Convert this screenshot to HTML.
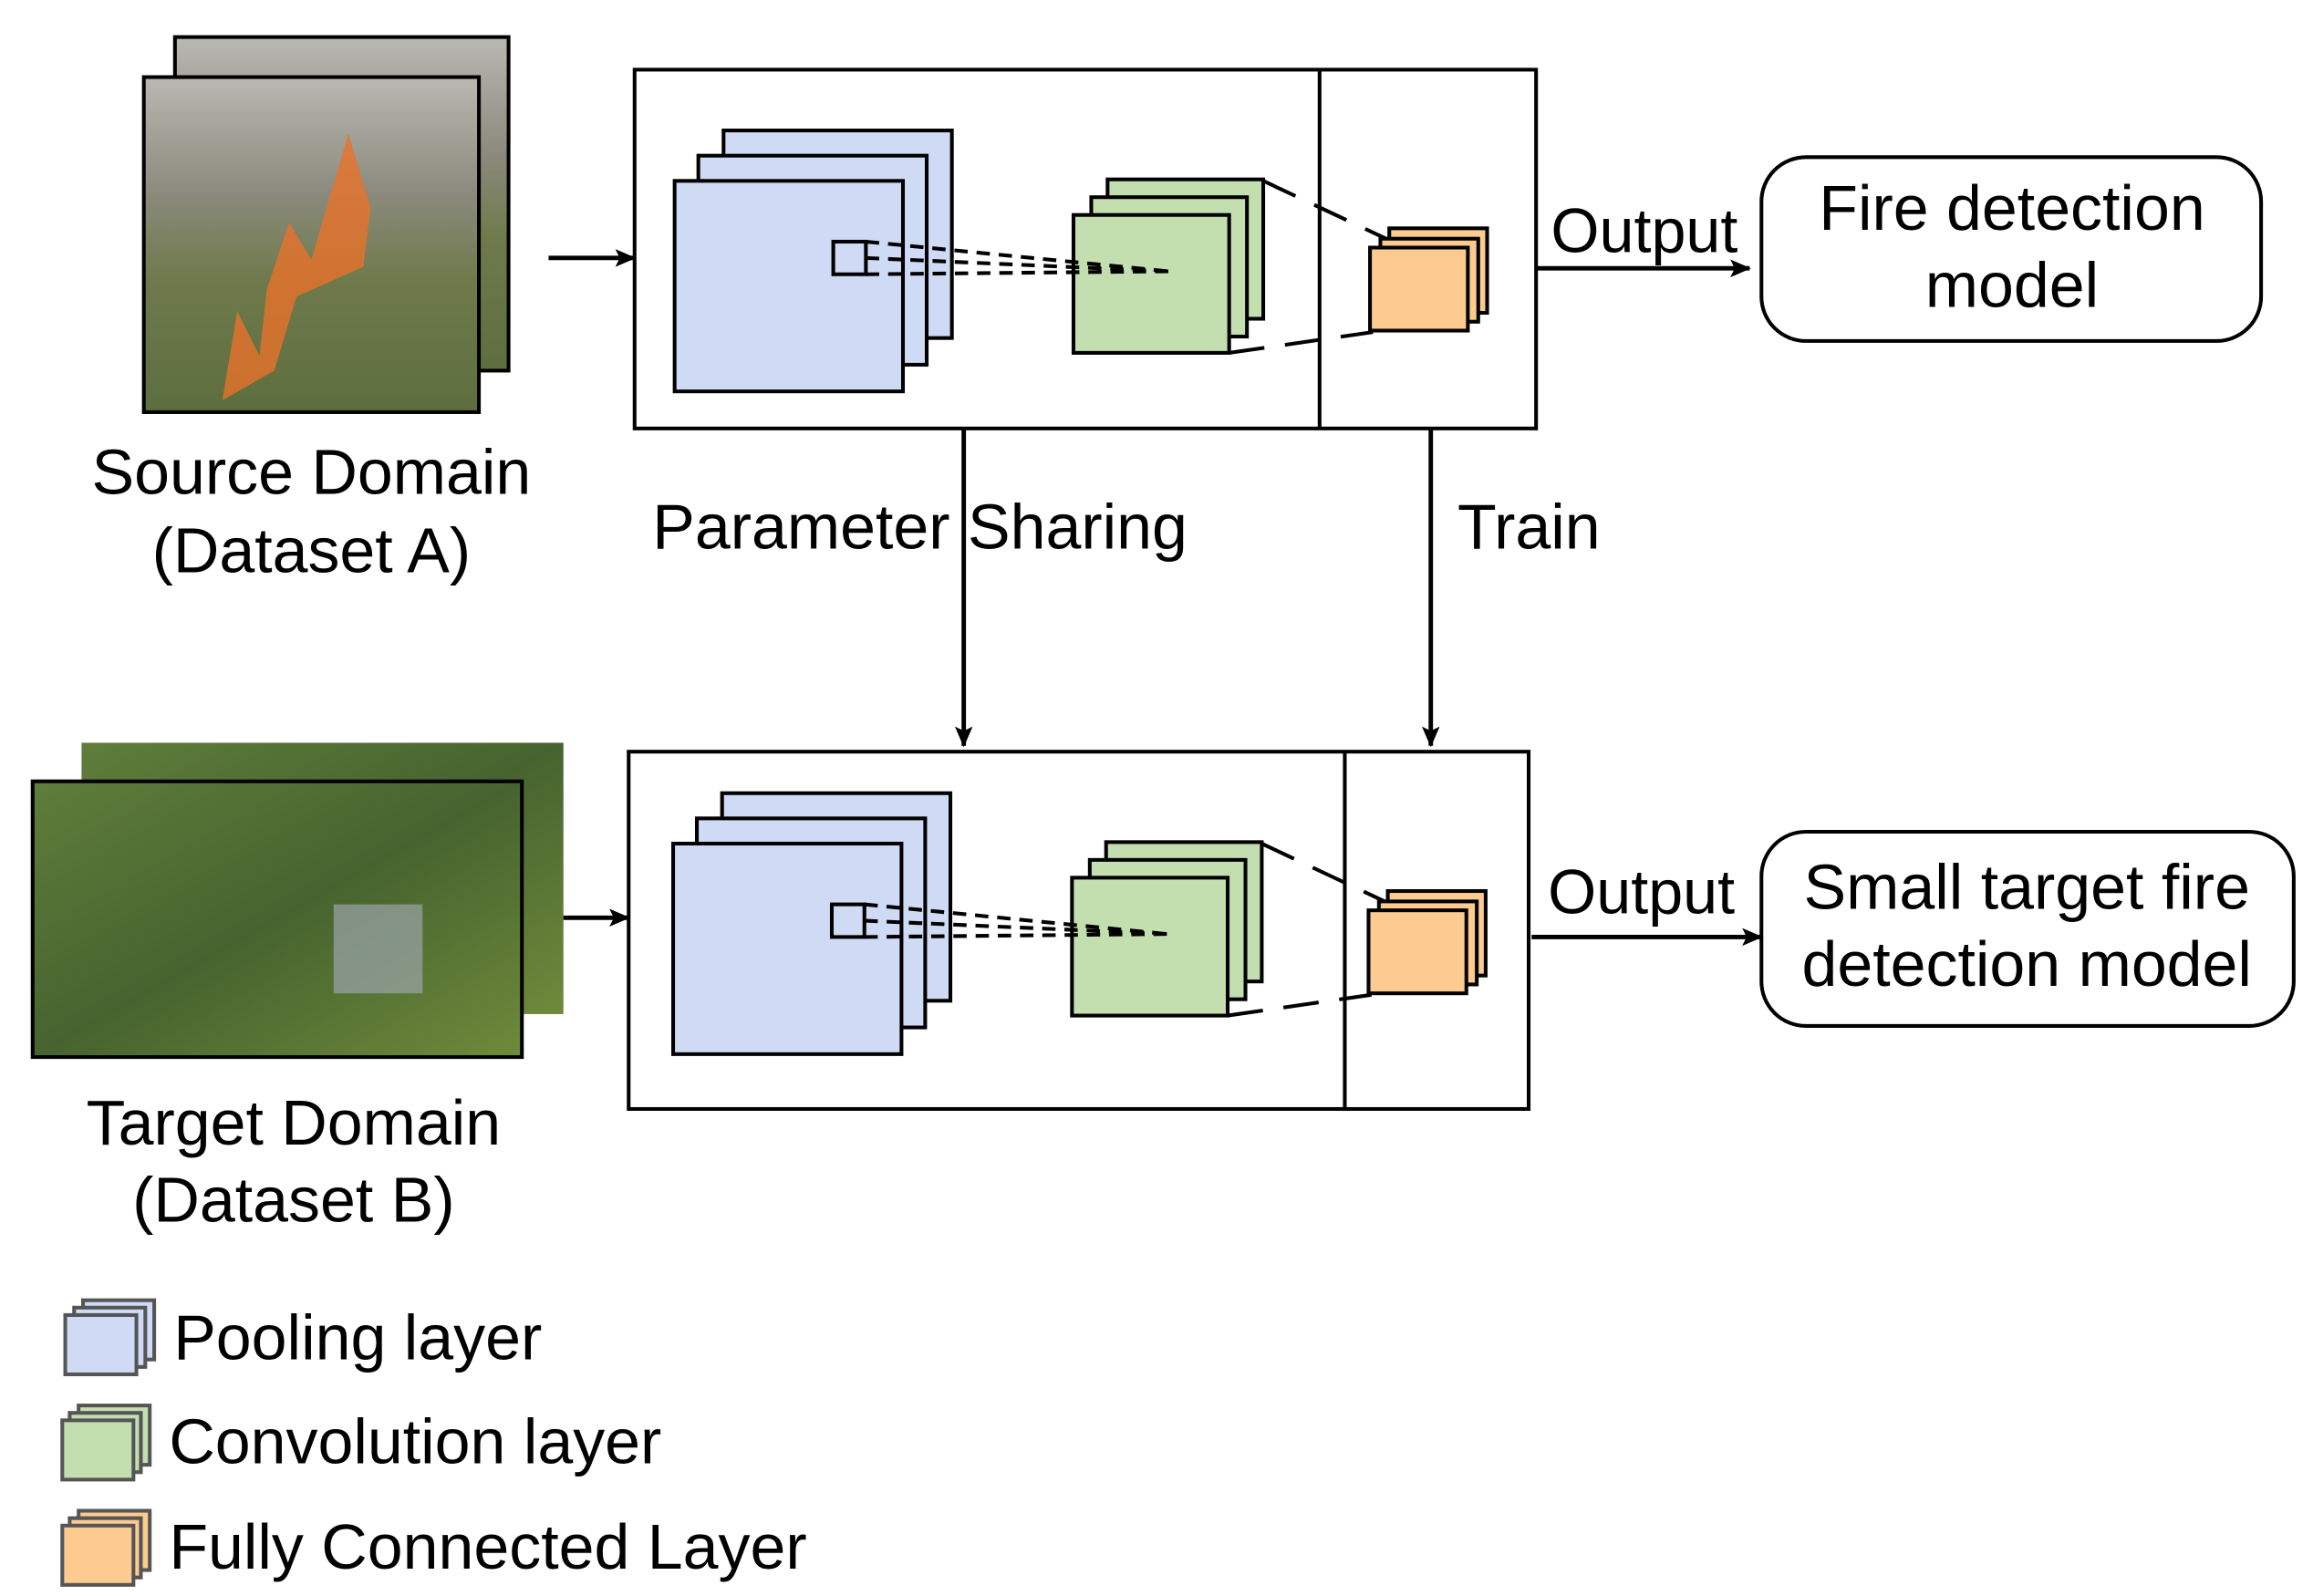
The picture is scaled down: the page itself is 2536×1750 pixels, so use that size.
<!DOCTYPE html>
<html><head><meta charset="utf-8"><style>html,body{margin:0;padding:0;background:#fff}svg{display:block}text{font-family:"Liberation Sans",Arial,sans-serif;fill:#000}</style></head><body>
<svg width="2536" height="1750" viewBox="0 0 1560 1076.5" xmlns="http://www.w3.org/2000/svg">
<defs>
<marker id="ah" markerWidth="14" markerHeight="12" refX="13" refY="6" orient="auto" markerUnits="userSpaceOnUse"><path d="M0,0 L14,6 L0,12 L3,6 z" fill="#000"/></marker>
<linearGradient id="fireA" x1="0" y1="0" x2="0" y2="1"><stop offset="0" stop-color="#b9b8b2"/><stop offset="0.35" stop-color="#8b8a7d"/><stop offset="0.6" stop-color="#6f7a4c"/><stop offset="1" stop-color="#5d6e3e"/></linearGradient>
<linearGradient id="forB" x1="0" y1="0" x2="1" y2="1"><stop offset="0" stop-color="#5f7d3a"/><stop offset="0.5" stop-color="#47632f"/><stop offset="1" stop-color="#6e8a3a"/></linearGradient>
<g id="net">
<rect x="488" y="88" width="154" height="140" fill="#cfdaf5" stroke="#000" stroke-width="2.5"/>
<rect x="471" y="105" width="154" height="141" fill="#cfdaf5" stroke="#000" stroke-width="2.5"/>
<rect x="455" y="122" width="154" height="142" fill="#cfdaf5" stroke="#000" stroke-width="2.5"/>
<rect x="562" y="163" width="22" height="22" fill="none" stroke="#000" stroke-width="2.5"/>
<rect x="747" y="121" width="105" height="94" fill="#c3dfb0" stroke="#000" stroke-width="2.5"/>
<rect x="736" y="133" width="105" height="94" fill="#c3dfb0" stroke="#000" stroke-width="2.5"/>
<rect x="724" y="145" width="105" height="93" fill="#c3dfb0" stroke="#000" stroke-width="2.5"/>
<path d="M584,163 L788,183 M584,185 L788,183 M584,174 L788,183" stroke="#000" stroke-width="2.5" stroke-dasharray="9,6" fill="none"/>
<path d="M852,122 L937,162 M829,238 L926,224" stroke="#000" stroke-width="2.5" stroke-dasharray="24,14" fill="none"/>
<rect x="937" y="154" width="66" height="57" fill="#fdcb8f" stroke="#000" stroke-width="2.5"/>
<rect x="931" y="161" width="66" height="56" fill="#fdcb8f" stroke="#000" stroke-width="2.5"/>
<rect x="924" y="167" width="66" height="56" fill="#fdcb8f" stroke="#000" stroke-width="2.5"/>
</g>
</defs>
<!-- Photo A -->
<rect x="118" y="25" width="225" height="225" fill="url(#fireA)" stroke="#000" stroke-width="2.5"/>
<rect x="97" y="52" width="226" height="226" fill="url(#fireA)" stroke="#000" stroke-width="2.5"/>
<path d="M150,270 L160,210 L175,240 L180,195 L195,150 L210,175 L235,90 L250,140 L255,100 L245,180 L200,200 L185,250 z" fill="#e8722a" opacity="0.8"/>
<text x="210" y="333" font-size="43" text-anchor="middle">Source Domain</text>
<text x="210" y="386" font-size="43" text-anchor="middle">(Dataset A)</text>
<line x1="370" y1="174" x2="428" y2="174" stroke="#000" stroke-width="3" marker-end="url(#ah)"/>
<!-- Top box -->
<rect x="428" y="47" width="608" height="242" fill="none" stroke="#000" stroke-width="2.5"/>
<line x1="890" y1="47" x2="890" y2="289" stroke="#000" stroke-width="2.5"/>
<use href="#net"/>
<text x="1046" y="170" font-size="42">Output</text>
<line x1="1036" y1="181" x2="1180" y2="181" stroke="#000" stroke-width="3" marker-end="url(#ah)"/>
<rect x="1188" y="106" width="337" height="124" rx="30" fill="none" stroke="#000" stroke-width="2.5"/>
<text x="1357" y="155" font-size="43" text-anchor="middle">Fire detection</text>
<text x="1357" y="207" font-size="43" text-anchor="middle">model</text>
<!-- vertical arrows -->
<line x1="650" y1="289" x2="650" y2="503" stroke="#000" stroke-width="3" marker-end="url(#ah)"/>
<line x1="965" y1="289" x2="965" y2="503" stroke="#000" stroke-width="3" marker-end="url(#ah)"/>
<text x="440" y="370" font-size="43">Parameter Sharing</text>
<text x="983" y="370" font-size="43">Train</text>
<!-- Photo B -->
<rect x="55" y="501" width="325" height="183" fill="url(#forB)"/>
<rect x="22" y="527" width="330" height="186" fill="url(#forB)" stroke="#000" stroke-width="2.5"/>
<rect x="225" y="610" width="60" height="60" fill="#9aa4a8" opacity="0.7"/>
<text x="198" y="772" font-size="43" text-anchor="middle">Target Domain</text>
<text x="198" y="824" font-size="43" text-anchor="middle">(Dataset B)</text>
<line x1="380" y1="619" x2="424" y2="619" stroke="#000" stroke-width="3" marker-end="url(#ah)"/>
<!-- Bottom box -->
<rect x="424" y="507" width="607" height="241" fill="none" stroke="#000" stroke-width="2.5"/>
<line x1="907" y1="507" x2="907" y2="748" stroke="#000" stroke-width="2.5"/>
<use href="#net" transform="translate(-1,447)"/>
<text x="1044" y="616" font-size="42">Output</text>
<line x1="1033" y1="632" x2="1188" y2="632" stroke="#000" stroke-width="3" marker-end="url(#ah)"/>
<rect x="1188" y="561" width="359" height="131" rx="30" fill="none" stroke="#000" stroke-width="2.5"/>
<text x="1367" y="613" font-size="43" text-anchor="middle">Small target fire</text>
<text x="1367" y="665" font-size="43" text-anchor="middle">detection model</text>
<!-- Legend -->
<g stroke="#555" stroke-width="2.5">
<rect x="56" y="877" width="48" height="40" fill="#cfdaf5"/><rect x="50" y="882" width="48" height="40" fill="#cfdaf5"/><rect x="44" y="887" width="48" height="40" fill="#cfdaf5"/>
<rect x="53" y="948" width="48" height="40" fill="#c3dfb0"/><rect x="47" y="953" width="48" height="40" fill="#c3dfb0"/><rect x="42" y="958" width="48" height="40" fill="#c3dfb0"/>
<rect x="53" y="1019" width="48" height="40" fill="#fdcb8f"/><rect x="47" y="1024" width="48" height="40" fill="#fdcb8f"/><rect x="42" y="1029" width="48" height="40" fill="#fdcb8f"/>
</g>
<text x="117" y="917" font-size="43">Pooling layer</text>
<text x="114" y="987" font-size="43">Convolution layer</text>
<text x="114" y="1058" font-size="43">Fully Connected Layer</text>
</svg>
</body></html>
